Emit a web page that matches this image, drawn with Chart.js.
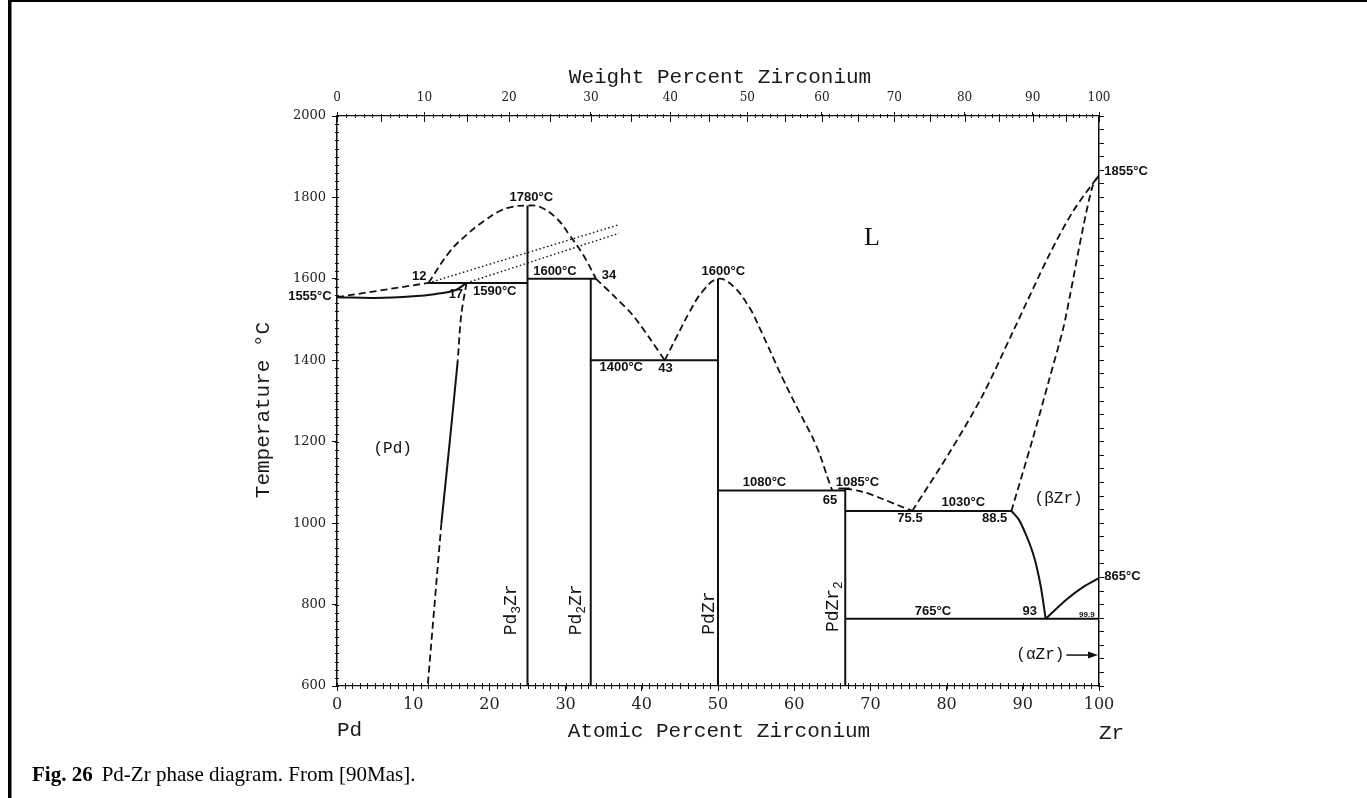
<!DOCTYPE html>
<html>
<head>
<meta charset="utf-8">
<title>Pd-Zr phase diagram</title>
<script src="https://cdn.jsdelivr.net/npm/chart.js@4.4.0/dist/chart.umd.min.js"></script>
<style>
    html, body { margin: 0; padding: 0; background: #fff; }
    #wrap { width: 1367px; height: 798px; }
</style>
</head>
<body>
<div id="wrap"><canvas id="chart" width="1367" height="798"></canvas></div>
<script>
// 원자량 (무게% -> 원자% 변환용)
const PD_MASS = 106.42;
const ZR_MASS = 91.224;

// 축 눈금
const tempTicks = [600, 800, 1000, 1200, 1400, 1600, 1800, 2000];
const atomicTicks = [0, 10, 20, 30, 40, 50, 60, 70, 80, 90, 100];
const weightTicks = [0, 10, 20, 30, 40, 50, 60, 70, 80, 90, 100];

// 상경계선 좌표 [at% Zr, °C]
const pdLiquidus = [[0, 1555], [12, 1590]];
const pdSolidus = [[0, 1555], [5, 1553], [10, 1557], [13, 1563], [15.5, 1572], [17, 1590]];
const pdSolvusTop = [[17, 1590], [16.3, 1511], [15.85, 1400]];
const pdSolvusMid = [[15.85, 1400], [14.8, 1200], [13.7, 1000]];
const pdSolvusLow = [[13.7, 1000], [11.9, 600]];
const pd3ZrLiquidus = [[12, 1590], [14.8, 1667], [17, 1708], [19.2, 1741], [21.3, 1766], [23, 1777], [25, 1780],
    [26.6, 1777], [28.8, 1749], [30.5, 1708], [32.3, 1659], [34, 1600]];
const pd2ZrLiquidus = [[34, 1600], [36.5, 1555], [38.8, 1511], [41, 1455], [43, 1400]];
const pdZrLiquidus = [[43, 1400], [44.5, 1455], [46.3, 1520], [48, 1570], [50, 1600], [52, 1582], [54.2, 1527],
    [55.5, 1478], [58.5, 1355], [60.7, 1272], [62.9, 1190], [64.6, 1100], [65, 1080]];
const pdZr2Liquidus = [[66.7, 1085], [69, 1077], [71.5, 1060], [73.5, 1045], [75.5, 1030]];
const zrLiquidus = [[75.5, 1030], [80.4, 1174], [84.7, 1313], [88.7, 1470], [93.5, 1660], [96.6, 1766], [100, 1855]];
const zrSolidus = [[88.5, 1030], [91.3, 1207], [93.5, 1355], [95.3, 1478], [96.2, 1560], [97.9, 1725], [99.2, 1830], [100, 1855]];
const betaSolvus = [[88.5, 1030], [89.5, 1008], [90.5, 968], [91.3, 928], [91.8, 894], [92.4, 840], [93, 765]];
const alphaBeta = [[93, 765], [95.7, 812], [97.9, 843], [100, 865]];
const metastableA = [[12, 1590], [37, 1733]];
const metastableB = [[17, 1590], [37, 1712]];

// 화합물 수직선
const pd3ZrLine = [[25, 600], [25, 1780]];
const pd2ZrLine = [[33.3, 600], [33.3, 1600]];
const pdZrLine = [[50, 600], [50, 1600]];
const pdZr2Line = [[66.7, 600], [66.7, 1085]];

// 불변 반응 수평선
const peritectic1590 = [[12, 1590], [25, 1590]];
const peritectic1600 = [[25, 1600], [34, 1600]];
const eutectic1400 = [[33.3, 1400], [50, 1400]];
const eutectic1080 = [[50, 1080], [66.7, 1080]];
const cap1085 = [[65.8, 1085], [67.3, 1085]];
const eutectic1030 = [[66.7, 1030], [88.5, 1030]];
const eutectoid765 = [[66.7, 765], [100, 765]];

// 점 라벨 [텍스트, at%, °C]
const pointLabels = [
    ['1555°C', -0.7, 1557, 'right'],
    ['12', 10.8, 1606], ['17', 15.6, 1562], ['1590°C', 20.7, 1568],
    ['1780°C', 25.5, 1801], ['1600°C', 28.6, 1619], ['34', 35.7, 1609],
    ['1400°C', 37.3, 1383], ['43', 43.1, 1381], ['1600°C', 50.7, 1619],
    ['1855°C', 100.7, 1864, 'left'],
    ['1080°C', 56.1, 1099], ['1085°C', 68.3, 1101], ['65', 64.7, 1055],
    ['1030°C', 82.2, 1051], ['75.5', 75.2, 1011], ['88.5', 86.3, 1011],
    ['865°C', 100.7, 868, 'left'], ['765°C', 78.2, 784], ['93', 90.9, 784]
];

// 화합물 이름 (세로 글씨)
const compoundLabels = [
    [[['Pd'], ['3', 'sub'], ['Zr']], 22.9, 787],
    [[['Pd'], ['2', 'sub'], ['Zr']], 31.4, 787],
    [[['PdZr']], 48.9, 779],
    [[['PdZr'], ['2', 'sub']], 65.1, 795]
];

const weightToAtomic = w => {
    const zr = w / ZR_MASS, pd = (100 - w) / PD_MASS;
    return 100 * zr / (zr + pd);
};

const INK = '#111';
const STYLES = {
    solid: { borderWidth: 2, borderDash: [] },
    dash: { borderWidth: 1.8, borderDash: [7, 4] },
    dot: { borderWidth: 1.4, borderDash: [1.5, 2.5] }
};

function makeSet(points, style, tension) {
    return {
        data: points.map(([x, y]) => ({ x, y })),
        showLine: true,
        borderColor: INK,
        borderWidth: STYLES[style].borderWidth,
        borderDash: STYLES[style].borderDash,
        pointRadius: 0,
        tension: tension || 0,
        fill: false
    };
}

const datasets = [
    makeSet(pdLiquidus, 'dash'),
    makeSet(pdSolidus, 'solid', 0.4),
    makeSet(pdSolvusTop, 'dash', 0.3),
    makeSet(pdSolvusMid, 'solid', 0.3),
    makeSet(pdSolvusLow, 'dash'),
    makeSet(pd3ZrLiquidus, 'dash', 0.4),
    makeSet(pd2ZrLiquidus, 'dash', 0.3),
    makeSet(pdZrLiquidus, 'dash', 0.4),
    makeSet(pdZr2Liquidus, 'dash', 0.3),
    makeSet(zrLiquidus, 'dash', 0.3),
    makeSet(zrSolidus, 'dash', 0.3),
    makeSet(betaSolvus, 'solid', 0.3),
    makeSet(alphaBeta, 'solid', 0.3),
    makeSet(metastableA, 'dot'),
    makeSet(metastableB, 'dot'),
    makeSet(pd3ZrLine, 'solid'),
    makeSet(pd2ZrLine, 'solid'),
    makeSet(pdZrLine, 'solid'),
    makeSet(pdZr2Line, 'solid'),
    makeSet(peritectic1590, 'solid'),
    makeSet(peritectic1600, 'solid'),
    makeSet(eutectic1400, 'solid'),
    makeSet(eutectic1080, 'solid'),
    makeSet(cap1085, 'solid'),
    makeSet(eutectic1030, 'solid'),
    makeSet(eutectoid765, 'solid')
];

// 아래첨자 포함 텍스트 그리기
function drawRich(ctx, parts, x, y, size, family) {
    const subSize = Math.round(size * 0.7);
    let total = 0;
    parts.forEach(([t, kind]) => {
        ctx.font = (kind === 'sub' ? subSize : size) + 'px ' + family;
        total += ctx.measureText(t).width;
    });
    let cx = x - total / 2;
    ctx.textAlign = 'left';
    ctx.textBaseline = 'middle';
    parts.forEach(([t, kind]) => {
        ctx.font = (kind === 'sub' ? subSize : size) + 'px ' + family;
        ctx.fillText(t, cx, kind === 'sub' ? y + size * 0.3 : y);
        cx += ctx.measureText(t).width;
    });
}

const decorPlugin = {
    id: 'decor',
    afterDraw(chart) {
        const ctx = chart.ctx;
        const xs = chart.scales.x, ys = chart.scales.y;
        const area = chart.chartArea;
        const px = v => xs.getPixelForValue(v);
        const py = v => ys.getPixelForValue(v);

        ctx.save();
        ctx.fillStyle = INK;
        ctx.strokeStyle = INK;

        // 작은 눈금
        ctx.lineWidth = 1;
        ctx.beginPath();
        for (let a = 0; a <= 100; a++) {
            const x = Math.round(px(a)) + 0.5;
            ctx.moveTo(x, area.bottom - 3); ctx.lineTo(x, area.bottom + 3);
        }
        for (let w = 0; w <= 100; w++) {
            const x = Math.round(px(weightToAtomic(w))) + 0.5;
            ctx.moveTo(x, area.top - 2); ctx.lineTo(x, area.top + (w % 5 === 0 ? 6 : 2));
        }
        for (let t = 600; t <= 2000; t += 20) {
            const y = Math.round(py(t)) + 0.5;
            ctx.moveTo(area.left - 2, y); ctx.lineTo(area.left + 2, y);
        }
        ctx.stroke();

        // 점 라벨
        ctx.textBaseline = 'middle';
        ctx.font = 'bold 13px "Liberation Sans", Arial, sans-serif';
        pointLabels.forEach(([t, x, y, align]) => {
            ctx.textAlign = align || 'center';
            ctx.fillText(t, px(x), py(y));
        });
        ctx.font = 'bold 8px "Liberation Sans", Arial, sans-serif';
        ctx.textAlign = 'center';
        ctx.fillText('99.9', px(98.4), py(775));

        // 상 이름
        ctx.font = '16px "Liberation Mono", monospace';
        ctx.fillText('(Pd)', px(7.3), py(1182));
        ctx.fillText('(βZr)', px(94.7), py(1060));
        ctx.fillText('(αZr)', px(92.3), py(676));
        ctx.font = '26px "Liberation Serif", serif';
        ctx.fillText('L', px(70.2), py(1700));

        // (αZr) 화살표
        const ay = py(676);
        ctx.lineWidth = 1.5;
        ctx.beginPath();
        ctx.moveTo(px(92.3) + 26, ay); ctx.lineTo(px(100) - 8, ay);
        ctx.stroke();
        ctx.beginPath();
        ctx.moveTo(px(100) - 1, ay); ctx.lineTo(px(100) - 11, ay - 3.5); ctx.lineTo(px(100) - 11, ay + 3.5);
        ctx.closePath(); ctx.fill();

        // 화합물 이름 (세로)
        compoundLabels.forEach(([parts, x, y]) => {
            ctx.save();
            ctx.translate(px(x), py(y));
            ctx.rotate(-Math.PI / 2);
            drawRich(ctx, parts, 0, 0, 18, '"Liberation Mono", monospace');
            ctx.restore();
        });

        // 축 제목
        ctx.fillStyle = '#1a1a1a';
        ctx.font = '21px "Liberation Mono", monospace';
        ctx.textAlign = 'center';
        ctx.fillText('Weight Percent Zirconium', 720, 77);
        ctx.fillText('Atomic Percent Zirconium', 719, 731);
        ctx.textAlign = 'left';
        ctx.fillText('Pd', px(0), 730);
        ctx.fillText('Zr', px(100), 733);
        ctx.save();
        ctx.translate(263, 410);
        ctx.rotate(-Math.PI / 2);
        ctx.textAlign = 'center';
        ctx.fillText('Temperature °C', 0, 0);
        ctx.restore();

        // 캡션
        ctx.fillStyle = '#000';
        ctx.textAlign = 'left';
        ctx.textBaseline = 'alphabetic';
        ctx.font = 'bold 21px "Liberation Serif", serif';
        ctx.fillText('Fig. 26', 32, 781);
        const capX = 32 + ctx.measureText('Fig. 26').width + 9;
        ctx.font = '21px "Liberation Serif", serif';
        ctx.fillText('Pd-Zr phase diagram. From [90Mas].', capX, 781);

        // 테두리
        ctx.fillRect(8, 0, 3.5, 798);
        ctx.fillRect(8, 0, 1359, 2);
        ctx.restore();
    }
};

const tickFont = size => ({ family: '"DejaVu Serif", serif', size });

new Chart(document.getElementById('chart'), {
    type: 'scatter',
    data: { datasets },
    options: {
        responsive: false,
        animation: false,
        events: [],
        layout: { padding: 0 },
        plugins: { legend: { display: false }, tooltip: { enabled: false } },
        scales: {
            x: {
                type: 'linear', position: 'bottom', min: 0, max: 100,
                afterBuildTicks: s => { s.ticks = atomicTicks.map(v => ({ value: v })); },
                afterFit: s => { s.height = 112; },
                ticks: { font: tickFont(16), color: '#222', padding: 4, autoSkip: false, maxRotation: 0,
                    callback: v => String(v) },
                grid: { drawOnChartArea: false, tickLength: 5, color: INK },
                border: { color: INK, width: 1.2 }
            },
            x2: {
                type: 'linear', position: 'top', min: 0, max: 100,
                afterBuildTicks: s => { s.ticks = weightTicks.map(w => ({ value: weightToAtomic(w) })); },
                afterFit: s => { s.height = 116; },
                ticks: { font: tickFont(12), color: '#222', padding: 7, autoSkip: false, maxRotation: 0,
                    callback: (v, i) => String(weightTicks[i]) },
                grid: { drawOnChartArea: false, tickLength: 4, color: INK },
                border: { color: INK, width: 1.2, dash: [2, 2] }
            },
            y: {
                type: 'linear', position: 'left', min: 600, max: 2000,
                afterBuildTicks: s => { s.ticks = tempTicks.map(v => ({ value: v })); },
                afterFit: s => { s.width = 337; },
                ticks: { font: tickFont(13), color: '#222', padding: 6, callback: v => String(v) },
                grid: { drawOnChartArea: false, tickLength: 5, color: INK },
                border: { color: INK, width: 1.5 }
            },
            y2: {
                type: 'linear', position: 'right', min: 600, max: 2000,
                afterBuildTicks: s => {
                    const t = [];
                    for (let k = 0; k <= 42; k++) t.push({ value: 600 + k * 200 / 6 });
                    s.ticks = t;
                },
                afterFit: s => { s.width = 268; },
                ticks: { display: false },
                grid: { drawOnChartArea: false, tickLength: 5, color: INK },
                border: { color: INK, width: 1.5 }
            }
        }
    },
    plugins: [decorPlugin]
});
</script>
</body>
</html>
